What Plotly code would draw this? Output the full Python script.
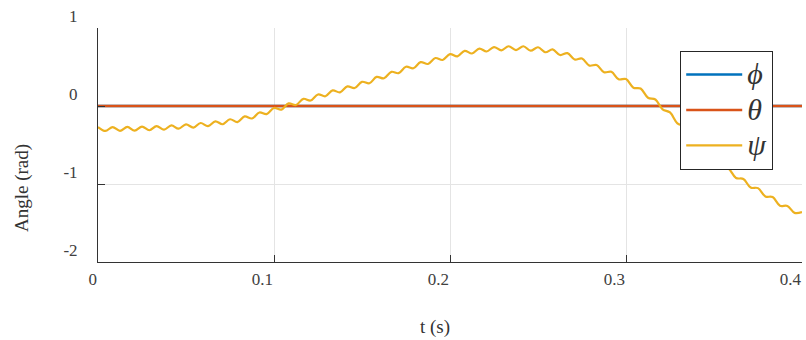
import plotly.graph_objects as go

# Time samples (s) and Euler angles (rad)
t = [0, 0.0042, 0.0083, 0.0125, 0.0167, 0.0208, 0.025, 0.0292, 0.0333, 0.0375,
     0.0417, 0.0458, 0.05, 0.0542, 0.0583, 0.0625, 0.0667, 0.0708, 0.075, 0.0792,
     0.0833, 0.0875, 0.0917, 0.0958, 0.1, 0.1042, 0.1083, 0.1125, 0.1167, 0.1208,
     0.125, 0.1292, 0.1333, 0.1375, 0.1417, 0.1458, 0.15, 0.1542, 0.1583, 0.1625,
     0.1667, 0.1708, 0.175, 0.1792, 0.1833, 0.1875, 0.1917, 0.1958, 0.2, 0.2042,
     0.2083, 0.2125, 0.2167, 0.2208, 0.225, 0.2292, 0.2333, 0.2375, 0.2417, 0.2458,
     0.25, 0.2542, 0.2583, 0.2625, 0.2667, 0.2708, 0.275, 0.2792, 0.2833, 0.2875,
     0.2917, 0.2958, 0.3, 0.3042, 0.3083, 0.3125, 0.3167, 0.3208, 0.325, 0.3292,
     0.3333, 0.3375, 0.3417, 0.3458, 0.35, 0.3542, 0.3583, 0.3625, 0.3667, 0.3708,
     0.375, 0.3792, 0.3833, 0.3875, 0.3917, 0.3958, 0.4]

psi = [-0.270, -0.320, -0.270, -0.319, -0.268, -0.316, -0.264, -0.311, -0.257, -0.303,
       -0.248, -0.291, -0.235, -0.277, -0.218, -0.258, -0.196, -0.234, -0.170, -0.206,
       -0.134, -0.160, -0.083, -0.104, -0.025, -0.046, 0.033, 0.013, 0.092, 0.070,
       0.148, 0.125, 0.200, 0.175, 0.252, 0.231, 0.310, 0.291, 0.373, 0.355,
       0.438, 0.421, 0.503, 0.484, 0.562, 0.539, 0.615, 0.590, 0.665, 0.636,
       0.707, 0.673, 0.736, 0.699, 0.756, 0.714, 0.766, 0.717, 0.766, 0.709,
       0.753, 0.689, 0.726, 0.654, 0.677, 0.597, 0.608, 0.518, 0.526, 0.433,
       0.438, 0.342, 0.345, 0.235, 0.224, 0.106, 0.083, -0.043, -0.083, -0.222,
       -0.265, -0.409, -0.452, -0.593, -0.635, -0.768, -0.802, -0.923, -0.935, -1.046,
       -1.053, -1.159, -1.168, -1.279, -1.281, -1.370, -1.360]

t_const = [0, 0.4]
phi = [0, 0]
theta = [0, 0]

x_ticks = [0, 0.1, 0.2, 0.3, 0.4]
x_labels = ["0", "0.1", "0.2", "0.3", "0.4"]
y_ticks = [1, 0, -1, -2]
y_labels = ["1", "0", "-1", "-2"]

BLUE = "#0072BD"
RED = "#D95319"
YELLOW = "#EDB120"
AXIS = "#333333"
GRID = "#e4e4e4"
FONT = "'Liberation Serif', 'Times New Roman', serif"


def greek(sym):
    # larger italic glyph inside a legend row of fixed height
    return f"<span style=\"font-size:30px\"><i>{sym}</i></span>"


fig = go.Figure()
fig.add_trace(go.Scatter(x=t_const, y=phi, mode="lines", name=greek("ϕ"),
                         line=dict(color=BLUE, width=2.4)))
fig.add_trace(go.Scatter(x=t_const, y=theta, mode="lines", name=greek("θ"),
                         line=dict(color=RED, width=2.4)))
fig.add_trace(go.Scatter(x=t, y=psi, mode="lines", name=greek("ψ"),
                         line=dict(color=YELLOW, width=2.2, shape="spline", smoothing=1)))

axis_common = dict(
    ticks="inside", ticklen=7, tickwidth=1, tickcolor=AXIS,
    showline=True, linecolor=AXIS, linewidth=1,
    showgrid=True, gridcolor=GRID, gridwidth=1,
    zeroline=False, automargin=False,
    tickfont=dict(family=FONT, size=17, color="#404040"),
)

fig.update_xaxes(range=[0, 0.4], tickmode="array", tickvals=x_ticks, ticktext=x_labels,
                 ticklabelposition="outside left", ticklabelstandoff=2, **axis_common)
fig.update_yaxes(range=[-2, 1], tickmode="array", tickvals=y_ticks, ticktext=y_labels,
                 ticklabelposition="outside top", ticklabelstandoff=16, **axis_common)

fig.add_annotation(text="t (s)", xref="paper", yref="paper", x=0.479, y=-0.278,
                   showarrow=False, xanchor="center", yanchor="middle",
                   font=dict(family=FONT, size=19, color="#333333"))
fig.add_annotation(text="Angle (rad)", xref="paper", yref="paper", x=-0.108, y=0.316,
                   showarrow=False, xanchor="center", yanchor="middle", textangle=-90,
                   font=dict(family=FONT, size=19, color="#333333"))

fig.update_layout(
    width=806, height=340,
    margin=dict(l=98, r=4, t=28, b=78),
    paper_bgcolor="white", plot_bgcolor="white",
    font=dict(family=FONT),
    showlegend=True,
    legend=dict(x=0.827, y=0.903, xanchor="left", yanchor="top",
                bgcolor="white", bordercolor="#262626", borderwidth=1,
                itemwidth=56, tracegroupgap=0,
                font=dict(family=FONT, size=25, color="#333333")),
)

fig.write_html("out.html")
